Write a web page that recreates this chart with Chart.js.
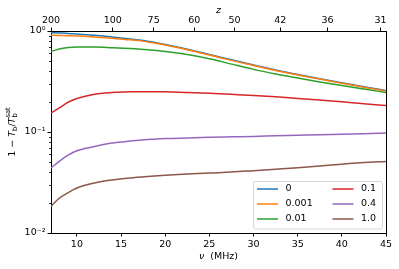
<!DOCTYPE html>
<html>
<head>
<meta charset="utf-8">
<script src="https://cdn.jsdelivr.net/npm/chart.js@4.4.0/dist/chart.umd.min.js"></script>
<style>
  html, body { margin: 0; padding: 0; background: #fff; }
</style>
</head>
<body>
<canvas id="chart" width="399" height="269"></canvas>
<script>
// frequency grid (MHz) and the six curves
var nu    = [7.0667, 8, 9, 10, 12, 14, 16, 18, 20, 22.5, 25, 27.5, 30, 32.5, 35, 37.5, 40, 42.5, 45];
var f0    = [0.962, 0.955, 0.947, 0.934, 0.909, 0.872, 0.835, 0.793, 0.737, 0.661, 0.586, 0.518, 0.460, 0.411, 0.371, 0.337, 0.307, 0.281, 0.257];
var f0001 = [0.907, 0.903, 0.899, 0.892, 0.874, 0.847, 0.817, 0.779, 0.727, 0.653, 0.579, 0.512, 0.455, 0.407, 0.367, 0.334, 0.304, 0.278, 0.255];
var f001  = [0.627, 0.664, 0.685, 0.695, 0.695, 0.684, 0.670, 0.652, 0.626, 0.584, 0.531, 0.470, 0.417, 0.376, 0.342, 0.313, 0.288, 0.266, 0.246];
var f01   = [0.154, 0.173, 0.197, 0.215, 0.237, 0.246, 0.250, 0.251, 0.250, 0.246, 0.242, 0.236, 0.230, 0.223, 0.215, 0.207, 0.199, 0.190, 0.183];
var f04   = [0.0440, 0.0513, 0.0589, 0.0652, 0.0719, 0.0778, 0.0813, 0.0841, 0.0861, 0.0873, 0.0885, 0.0895, 0.0905, 0.0917, 0.0928, 0.0938, 0.0951, 0.0962, 0.0975];
var f10   = [0.0184, 0.0221, 0.0251, 0.0279, 0.0313, 0.0335, 0.0351, 0.0363, 0.0373, 0.0384, 0.0393, 0.0401, 0.0414, 0.0428, 0.0443, 0.0460, 0.0480, 0.0499, 0.0511];

var seriesLabels = ['0', '0.001', '0.01', '0.1', '0.4', '1.0'];
var seriesData   = [f0, f0001, f001, f01, f04, f10];
var seriesColors = ['#1f77b4', '#ff7f0e', '#2ca02c', '#d62728', '#9467bd', '#8c564b'];

var xTicks = [10, 15, 20, 25, 30, 35, 40, 45];
var zTicks = [200, 100, 75, 60, 50, 42, 36, 31];
var yTicks = [0.01, 0.1, 1];
var yTickLabels = ['10\u207B\u00B2', '10\u207B\u00B9', '10\u2070'];
var yMinor = [0.02, 0.03, 0.04, 0.05, 0.06, 0.07, 0.08, 0.09, 0.2, 0.3, 0.4, 0.5, 0.6, 0.7, 0.8, 0.9];

var NU21 = 1420.405;
var nuMin = NU21 / (1 + zTicks[0]);
var nuMax = 45;
var FONT = 'DejaVu Sans';
var FS = 9.5;

function zToNu(z) { return NU21 / (1 + z); }

var datasets = seriesData.map(function (arr, i) {
  return {
    label: seriesLabels[i],
    data: nu.map(function (x, j) { return { x: x, y: arr[j] }; }),
    borderColor: seriesColors[i],
    backgroundColor: seriesColors[i],
    borderWidth: 1.5,
    pointRadius: 0,
    fill: false,
    cubicInterpolationMode: 'monotone',
    order: seriesData.length - i
  };
});

var axisGrid = { drawOnChartArea: false, drawTicks: true, tickLength: 3.5, color: '#000', tickColor: '#000', lineWidth: 1 };
var axisBorder = { display: true, color: '#000', width: 1 };
var tickFont = { family: FONT, size: FS };

// y title with sub/superscripts, legend in two columns, frame, minor ticks
var extras = {
  id: 'extras',
  afterDraw: function (chart) {
    var ctx = chart.ctx;
    var a = chart.chartArea;
    var y = chart.scales.y;

    ctx.save();
    // minor ticks on the log axis
    ctx.strokeStyle = '#000';
    ctx.lineWidth = 0.8;
    yMinor.forEach(function (v) {
      var py = Math.round(y.getPixelForValue(v)) + 0.5;
      ctx.beginPath();
      ctx.moveTo(a.left - 2, py);
      ctx.lineTo(a.left, py);
      ctx.stroke();
    });

    // right spine
    ctx.lineWidth = 1;
    ctx.beginPath();
    ctx.moveTo(Math.round(a.right) + 0.5, a.top);
    ctx.lineTo(Math.round(a.right) + 0.5, a.bottom);
    ctx.stroke();

    // x titles
    ctx.fillStyle = '#000';
    ctx.textBaseline = 'middle';
    var cx = (a.left + a.right) / 2;
    ctx.font = 'italic ' + FS + 'px ' + FONT;
    var wNu = ctx.measureText('\u03BD').width;
    ctx.font = FS + 'px ' + FONT;
    var wRest = ctx.measureText('  (MHz)').width;
    var sx = cx - (wNu + wRest) / 2;
    ctx.font = 'italic ' + FS + 'px ' + FONT;
    ctx.textAlign = 'left';
    ctx.fillText('\u03BD', sx, 257);
    ctx.font = FS + 'px ' + FONT;
    ctx.fillText('  (MHz)', sx + wNu, 257);

    ctx.font = 'italic ' + FS + 'px ' + FONT;
    ctx.textAlign = 'center';
    ctx.fillText('z', cx, 11);

    // y title: 1 − T_b / T_b^sat
    ctx.save();
    ctx.translate(12.5, (a.top + a.bottom) / 2);
    ctx.rotate(-Math.PI / 2);
    ctx.textAlign = 'left';
    var big = FS + 'px ' + FONT, ital = 'italic ' + FS + 'px ' + FONT, small = '6.8px ' + FONT;
    var parts = [
      { t: '1 \u2212 ', f: big, dy: 0 },
      { t: 'T', f: ital, dy: 0 },
      { t: 'b', f: small, dy: 2.8 },
      { t: '/', f: big, dy: 0 },
      { t: 'T', f: ital, dy: 0 },
      { t: 'sat', f: small, dy: -4, sub: 'b' }
    ];
    var total = 0;
    parts.forEach(function (p) {
      ctx.font = p.f;
      p.w = ctx.measureText(p.t).width;
      if (p.sub) p.w = Math.max(p.w, ctx.measureText(p.sub).width);
      total += p.w;
    });
    var px = -total / 2;
    parts.forEach(function (p) {
      ctx.font = p.f;
      ctx.fillText(p.t, px, p.dy);
      if (p.sub) ctx.fillText(p.sub, px, 2.8);
      px += p.w;
    });
    ctx.restore();

    // legend box
    var bx = a.right - 133, by = a.bottom - 52, bw = 129, bh = 47.5;
    ctx.beginPath();
    ctx.roundRect(bx + 0.5, by + 0.5, bw, bh, 2);
    ctx.fillStyle = 'rgba(255,255,255,0.8)';
    ctx.fill();
    ctx.strokeStyle = '#d6d6d6';
    ctx.lineWidth = 1;
    ctx.stroke();

    ctx.font = FS + 'px ' + FONT;
    ctx.textAlign = 'left';
    ctx.textBaseline = 'middle';
    chart.data.datasets.forEach(function (ds, i) {
      var col = Math.floor(i / 3), row = i % 3;
      var lx = bx + 4 + col * 75.5;
      var ly = by + 8 + row * 15;
      ctx.strokeStyle = ds.borderColor;
      ctx.lineWidth = 1.5;
      ctx.beginPath();
      ctx.moveTo(lx, ly);
      ctx.lineTo(lx + 21, ly);
      ctx.stroke();
      ctx.fillStyle = '#000';
      ctx.fillText(ds.label, lx + 28.5, ly);
    });
    ctx.restore();
  }
};

new Chart(document.getElementById('chart'), {
  type: 'line',
  data: { datasets: datasets },
  options: {
    responsive: false,
    animation: false,
    devicePixelRatio: 1,
    layout: { padding: { left: 0, right: 13, top: 0, bottom: 0 } },
    plugins: { legend: { display: false }, tooltip: { enabled: false } },
    scales: {
      x: {
        type: 'linear', position: 'bottom', min: nuMin, max: nuMax,
        afterBuildTicks: function (s) { s.ticks = xTicks.map(function (v) { return { value: v }; }); },
        afterFit: function (s) { s.height = 36; },
        grid: axisGrid, border: axisBorder,
        ticks: { color: '#000', font: tickFont, padding: 2, maxRotation: 0, autoSkip: false,
          callback: function (v) { return String(v); } }
      },
      x2: {
        type: 'linear', position: 'top', min: nuMin, max: nuMax,
        afterBuildTicks: function (s) { s.ticks = zTicks.map(function (z) { return { value: zToNu(z) }; }); },
        afterFit: function (s) { s.height = 31; },
        grid: axisGrid, border: axisBorder,
        ticks: { color: '#000', font: tickFont, padding: 1, maxRotation: 0, autoSkip: false,
          callback: function (v, i) { return String(zTicks[i]); } }
      },
      y: {
        type: 'logarithmic', position: 'left', min: 0.01, max: 1,
        afterBuildTicks: function (s) { s.ticks = yTicks.map(function (v) { return { value: v }; }); },
        afterFit: function (s) { s.width = 51; },
        grid: axisGrid, border: axisBorder,
        ticks: { color: '#000', font: tickFont, padding: 2, autoSkip: false,
          callback: function (v, i) { return yTickLabels[i]; } }
      }
    }
  },
  plugins: [extras]
});
</script>
</body>
</html>
